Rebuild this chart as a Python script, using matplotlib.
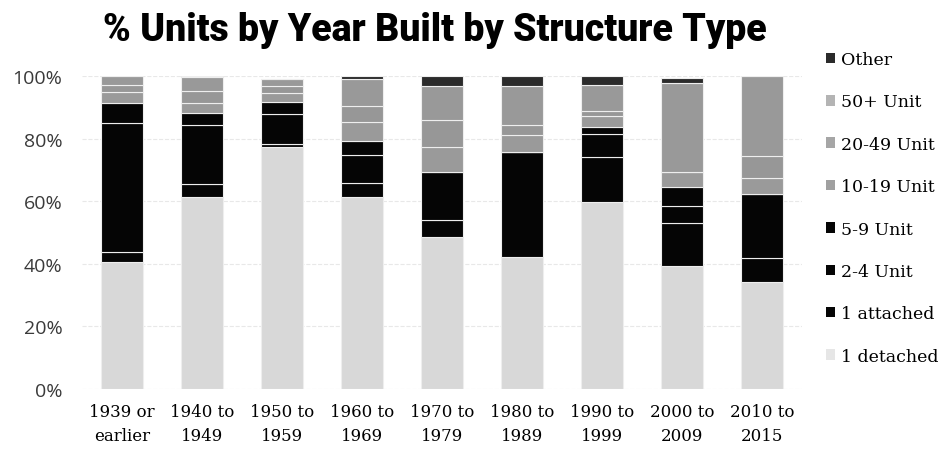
import matplotlib
matplotlib.use("Agg")
import matplotlib.pyplot as plt
import numpy as np
from matplotlib.patches import Patch

# Year-built groups and share of units (%) by structure type
periods = ["1939 or\nearlier", "1940 to\n1949", "1950 to\n1959", "1960 to\n1969",
           "1970 to\n1979", "1980 to\n1989", "1990 to\n1999", "2000 to\n2009",
           "2010 to\n2015"]
detached = [40.5, 61.4, 77.2, 61.2, 48.5, 42.3, 59.8, 39.2, 34.1]
attached = [3.2, 4.1, 1.1, 4.5, 5.5, 33.3, 14.4, 13.7, 7.7]
unit_2_4 = [41.2, 18.8, 9.6, 9.1, 15.2, 0.0, 7.3, 5.7, 20.5]
unit_5_9 = [6.4, 3.8, 3.7, 4.5, 0.0, 0.0, 2.3, 6.0, 0.0]
unit_10_19 = [3.5, 3.2, 2.9, 5.9, 8.2, 5.6, 3.3, 4.8, 5.0]
unit_20_49 = [2.4, 4.0, 2.2, 5.3, 8.5, 3.3, 1.8, 0.0, 7.2]
unit_50 = [2.7, 4.3, 2.3, 8.7, 10.8, 12.2, 8.2, 28.4, 25.5]
other = [0.1, 0.4, 0.0, 0.8, 3.3, 3.3, 2.9, 1.6, 0.0]

series = [
    ("1 detached", detached, "#d8d8d8"),
    ("1 attached", attached, "#050505"),
    ("2-4 Unit", unit_2_4, "#050505"),
    ("5-9 Unit", unit_5_9, "#050505"),
    ("10-19 Unit", unit_10_19, "#9a9a9a"),
    ("20-49 Unit", unit_20_49, "#979797"),
    ("50+ Unit", unit_50, "#999999"),
    ("Other", other, "#2b2b2b"),
]
legend_colors = {"1 detached": "#e6e6e6", "50+ Unit": "#b4b4b4",
                 "20-49 Unit": "#a6a6a6", "10-19 Unit": "#a0a0a0"}


def main():
    fig = plt.figure(figsize=(9.38, 4.52), dpi=100)
    ax = fig.add_axes([0.0874, 0.1372, 0.7676, 0.6924])

    x = np.arange(len(periods))
    bottom = np.zeros(len(periods))
    for name, vals, color in series:
        v = np.array(vals) / 100.0
        ax.bar(x, v, width=0.53, bottom=bottom, color=color,
               edgecolor="#eeeeee", linewidth=0.8, zorder=3)
        bottom += v

    ax.set_xlim(-0.5, 8.5)
    ax.set_ylim(0, 1.0)
    ax.set_yticks([0, 0.2, 0.4, 0.6, 0.8, 1.0])
    ax.set_yticklabels(["0%", "20%", "40%", "60%", "80%", "100%"],
                       family="Open Sans", fontsize=14, color="#3a3a3a")
    ax.set_xticks(x)
    ax.set_xticklabels(periods, family="DejaVu Serif", fontsize=12,
                       linespacing=1.55)
    ax.tick_params(axis="both", length=0)
    ax.tick_params(axis="x", pad=10)
    ax.tick_params(axis="y", pad=14)
    for s in ax.spines.values():
        s.set_visible(False)
    ax.yaxis.grid(True, color="#e8e8e8", linewidth=0.8, linestyle="--")
    ax.set_axisbelow(True)

    handles = []
    for name, vals, color in reversed(series):
        handles.append(Patch(facecolor=legend_colors.get(name, color),
                             edgecolor="none", label=name))
    fig.legend(handles=handles, loc="upper left",
               bbox_to_anchor=(0.873, 0.9), frameon=False,
               prop={"family": "DejaVu Serif", "size": 12.5},
               handlelength=0.55, handleheight=0.55, handletextpad=0.35,
               labelspacing=1.46, borderaxespad=0)

    fig.text(0.464, 0.932, "% Units by Year Built by Structure Type",
             ha="center", va="center", fontsize=27, fontweight="heavy",
             family=["Roboto", "DejaVu Sans"])

    fig.savefig("out.png", dpi=100)


if __name__ == "__main__":
    main()
